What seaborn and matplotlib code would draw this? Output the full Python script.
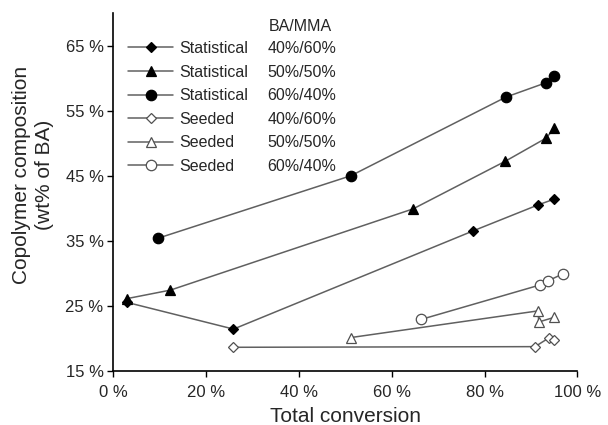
import matplotlib
matplotlib.use("Agg")
import matplotlib.pyplot as plt
from matplotlib.lines import Line2D
import seaborn as sns
import pandas as pd

sns.set_style("white")
plt.rcParams['font.family'] = ['Liberation Sans', 'DejaVu Sans']

# ---- data (conversion %, BA wt%) ----
stat_40_x = [3.0, 25.9, 77.5, 91.5, 95.0]
stat_40_y = [25.5, 21.4, 36.5, 40.5, 41.4]
stat_50_x = [3.0, 12.3, 64.6, 84.4, 93.3, 95.0]
stat_50_y = [26.1, 27.4, 39.9, 47.2, 50.8, 52.3]
stat_60_x = [9.7, 51.2, 84.6, 93.2, 95.0]
stat_60_y = [35.4, 45.0, 57.1, 59.3, 60.3]
seed_40_x = [25.9, 90.9, 94.0, 95.0]
seed_40_y = [18.6, 18.7, 20.1, 19.7]
seed_50_x = [51.2, 91.5, 91.7, 95.0]
seed_50_y = [20.1, 24.2, 22.5, 23.2]
seed_60_x = [66.4, 92.0, 93.6, 96.9]
seed_60_y = [22.9, 28.2, 28.8, 29.9]

methods = ["Statistical", "Statistical", "Statistical", "Seeded", "Seeded", "Seeded"]
ratios = ["40%/60%", "50%/50%", "60%/40%", "40%/60%", "50%/50%", "60%/40%"]
legend_title = "BA/MMA"
x_ticks = [0, 20, 40, 60, 80, 100]
x_tick_labels = ["0 %", "20 %", "40 %", "60 %", "80 %", "100 %"]
y_ticks = [15, 25, 35, 45, 55, 65]
y_tick_labels = ["15 %", "25 %", "35 %", "45 %", "55 %", "65 %"]
x_label = "Total conversion"
y_label = "Copolymer composition\n(wt% of BA)"

series = [
    (stat_40_x, stat_40_y), (stat_50_x, stat_50_y), (stat_60_x, stat_60_y),
    (seed_40_x, seed_40_y), (seed_50_x, seed_50_y), (seed_60_x, seed_60_y),
]
styles = [
    dict(marker="D", ms=5.5, mfc="black", mec="black"),
    dict(marker="^", ms=7, mfc="black", mec="black"),
    dict(marker="o", ms=7.5, mfc="black", mec="black"),
    dict(marker="D", ms=5, mfc="white", mec="#505050"),
    dict(marker="^", ms=7.5, mfc="white", mec="#505050"),
    dict(marker="o", ms=7.5, mfc="white", mec="#505050"),
]
line_color = "#606060"

fig = plt.figure(figsize=(6.08, 4.25), dpi=100)
ax = fig.add_axes([0.1864, 0.1278, 0.7631, 0.8409])

for (xs, ys), st in zip(series, styles):
    df = pd.DataFrame({"x": xs, "y": ys})
    sns.lineplot(data=df, x="x", y="y", ax=ax, color=line_color, lw=1.1,
                 marker=st["marker"], markersize=st["ms"],
                 markerfacecolor=st["mfc"], markeredgecolor=st["mec"],
                 markeredgewidth=0.9, estimator=None, sort=True, zorder=3)

ax.set_xlim(0, 100)
ax.set_ylim(15, 70)
ax.set_xticks(x_ticks)
ax.set_xticklabels(x_tick_labels, fontsize=12)
ax.set_yticks(y_ticks)
ax.set_yticklabels(y_tick_labels, fontsize=12)
ax.tick_params(axis="both", direction="out", length=4, width=1, color="black",
               left=True, bottom=True)
ax.tick_params(axis="x", pad=6)
ax.tick_params(axis="y", pad=3)
for s in ["top", "right"]:
    ax.spines[s].set_visible(False)
for s in ["left", "bottom"]:
    ax.spines[s].set_color("black")
    ax.spines[s].set_linewidth(1.2)

ax.set_xlabel(x_label, fontsize=15, labelpad=5)
ax.set_ylabel(y_label, fontsize=15, linespacing=1.25)
ax.yaxis.set_label_coords(-0.128, 0.547)

# legend: two columns (method with marker | composition), header as text
blank = Line2D([], [], linestyle="none")
handles = []
for st in styles:
    handles.append(Line2D([], [], color=line_color, lw=1.1, marker=st["marker"],
                          markersize=st["ms"], markerfacecolor=st["mfc"],
                          markeredgecolor=st["mec"], markeredgewidth=0.9))
handles += [blank] * 6
labels = methods + ratios
leg = ax.legend(handles, labels, ncol=2, loc="upper left",
                bbox_to_anchor=(0.032, 0.9228), frameon=False, fontsize=11.5,
                handlelength=2.8, handletextpad=0.4, columnspacing=-2.0,
                labelspacing=0.54, borderpad=0, borderaxespad=0)
ax.text(0.3356, 0.9617, legend_title, transform=ax.transAxes, fontsize=11.5,
        ha="left", va="center")

fig.savefig("out.png", dpi=100)
